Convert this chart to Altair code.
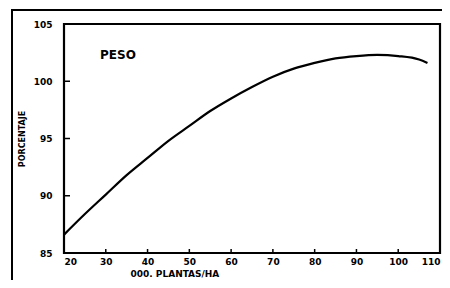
import altair as alt
import pandas as pd

plants = [20, 25, 30, 35, 40, 45, 50, 55, 60, 65, 70, 75, 80, 85, 90, 95, 100, 105, 107]
peso = [86.6, 88.4, 90.1, 91.8, 93.3, 94.8, 96.1, 97.4, 98.5, 99.5, 100.4, 101.1, 101.6, 102.0, 102.2, 102.3, 102.2, 101.9, 101.6]
y_ticks = [85, 90, 95, 100, 105]
x_ticks = [20, 30, 40, 50, 60, 70, 80, 90, 100, 110]
y_inner_ticks = [90, 95, 100]
x_inner_ticks = [30, 40, 50, 60, 70, 80, 90, 100]

df = pd.DataFrame({"x": plants, "y": peso})
FONT = "DejaVu Sans"

xs = alt.Scale(domain=[20, 110], nice=False, zero=False)
ys = alt.Scale(domain=[85, 105], nice=False, zero=False)

line = alt.Chart(df).mark_line(color="black", strokeWidth=2.2, interpolate="monotone").encode(
    x=alt.X("x:Q", scale=xs, axis=alt.Axis(
        values=x_ticks, title="000. PLANTAS/HA", ticks=False, domain=False, grid=False,
        labelFont=FONT, labelFontWeight="bold", labelFontSize=9, labelColor="black", labelPadding=4,
        titleFont=FONT, titleFontWeight="bold", titleFontSize=9, titleColor="black",
        titleX=66, titleY=20, titleAlign="left", titleAnchor="start", titleBaseline="middle")),
    y=alt.Y("y:Q", scale=ys, axis=alt.Axis(
        values=y_ticks, title="PORCENTAJE", ticks=False, domain=False, grid=False,
        labelFont=FONT, labelFontWeight="bold", labelFontSize=9, labelColor="black", labelPadding=12,
        titleFont=FONT, titleFontWeight="bold", titleFontSize=8, titleColor="black",
        titleX=-42, titleBaseline="middle")),
)

yt = alt.Chart(pd.DataFrame({"v": y_inner_ticks})).mark_rule(color="black", strokeWidth=1.5).encode(
    y=alt.Y("v:Q", scale=ys), x=alt.value(0), x2=alt.value(6))
xt = alt.Chart(pd.DataFrame({"v": x_inner_ticks})).mark_rule(color="black", strokeWidth=1.5).encode(
    x=alt.X("v:Q", scale=xs), y=alt.value(229), y2=alt.value(225))

label = alt.Chart(pd.DataFrame({"t": ["PESO"]})).mark_text(
    font=FONT, fontWeight="bold", fontSize=12, align="left", baseline="middle", color="black"
).encode(text="t:N", x=alt.value(36), y=alt.value(31))

frame_left = alt.Chart(pd.DataFrame({"a": [0]})).mark_rule(color="black", strokeWidth=2).encode(
    x=alt.value(-52), y=alt.value(-14), y2=alt.value(266))
frame_top = alt.Chart(pd.DataFrame({"a": [0]})).mark_rule(color="black", strokeWidth=2).encode(
    x=alt.value(-53), x2=alt.value(390), y=alt.value(-14), y2=alt.value(-14))
frame_right = alt.Chart(pd.DataFrame({"a": [0]})).mark_rule(color="#555", strokeWidth=1.5).encode(
    x=alt.value(385), y=alt.value(40), y2=alt.value(266))

chart = alt.layer(line, yt, xt, label, frame_left, frame_top, frame_right).properties(
    width=376, height=229,
    background="white",
    autosize=alt.AutoSizeParams(type="none"),
    padding={"left": 56, "top": 16, "right": 2, "bottom": 27},
).configure_view(stroke="black", strokeWidth=2.2)

chart.save("out.html", embed_options={"renderer": "svg", "actions": False})
